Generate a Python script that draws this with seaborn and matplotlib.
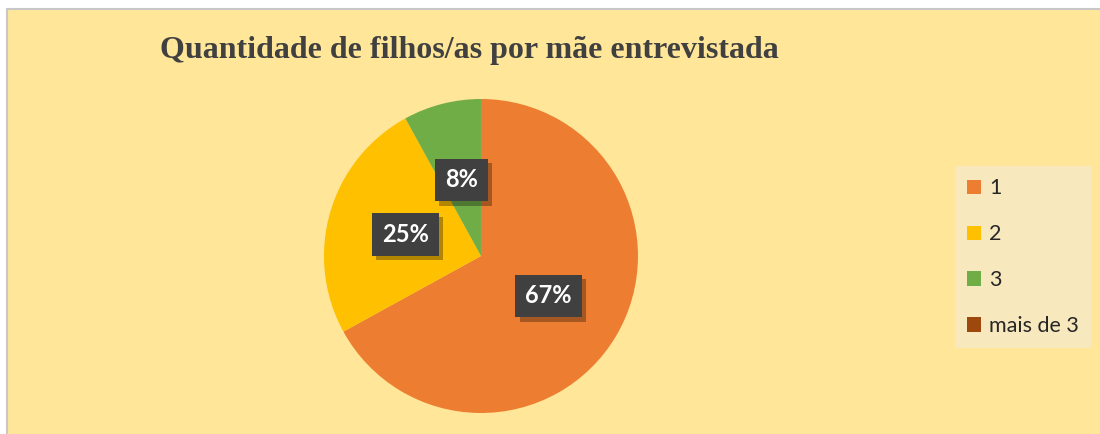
import matplotlib
matplotlib.use('Agg')
import matplotlib.pyplot as plt
import matplotlib.patheffects as pe
from matplotlib.patches import Rectangle, Patch
import seaborn as sns

# data
categories = ['1', '2', '3', 'mais de 3']
shares = [67, 25, 8, 0]
colors = ['#ED7D31', '#FFC000', '#70AD47', '#9E480E']
title = 'Quantidade de filhos/as por mãe entrevistada'

sns.set_theme(style='white')
plt.rcParams['font.family'] = ['Lato', 'DejaVu Sans']

fig = plt.figure(figsize=(11, 4.34), dpi=100)
fig.patch.set_facecolor('white')

# chart area frame
fig.patches.append(Rectangle((7 / 1100, -0.1), 1.2, 1 - 9 / 434 + 0.1,
                             transform=fig.transFigure, facecolor='#FFE699',
                             edgecolor='#C8C8C8', linewidth=1.5, zorder=-5))

fig.text(0.4264, 0.8825, title, ha='center', va='center',
         fontfamily='Liberation Serif', fontweight='bold', fontsize=23,
         color='#404040')

ax = fig.add_axes([0.2945, 0.0484, 0.2855, 0.7235])
ax.set_facecolor('none')


def fmt(p):
    return '' if p < 0.5 else '%d%%' % round(p)


wedges, texts, autotexts = ax.pie(shares, colors=colors, startangle=90,
                                  counterclock=False, autopct=fmt,
                                  pctdistance=0.5, radius=1,
                                  wedgeprops=dict(linewidth=0))
ax.set_xlim(-1, 1)
ax.set_ylim(-1, 1)
ax.set_aspect('equal')
ax.axis('off')

for t in autotexts:
    if t.get_text() == '':
        continue
    t.set_color('white')
    t.set_fontsize(17)
    t.set_fontweight('bold')
    t.set_bbox(dict(boxstyle='square,pad=0.42', facecolor='#404040',
                    edgecolor='none'))
    t.get_bbox_patch().set_path_effects([
        pe.SimplePatchShadow(offset=(3, -3), shadow_rgbFace='black',
                             alpha=0.3),
        pe.Normal()])

handles = [Patch(facecolor=c, edgecolor='none') for c in colors]
leg = fig.legend(handles, categories, loc='upper left',
                 bbox_to_anchor=(955 / 1100, 1 - 166 / 434),
                 frameon=True, fancybox=False, fontsize=15.5,
                 labelspacing=1.2, handlelength=0.65, handleheight=0.65,
                 handletextpad=0.35, borderpad=0.58, borderaxespad=0)
frame = leg.get_frame()
frame.set_facecolor('#F8E8BE')
frame.set_edgecolor('none')
frame.set_alpha(1)

fig.savefig('out.png', dpi=100)
